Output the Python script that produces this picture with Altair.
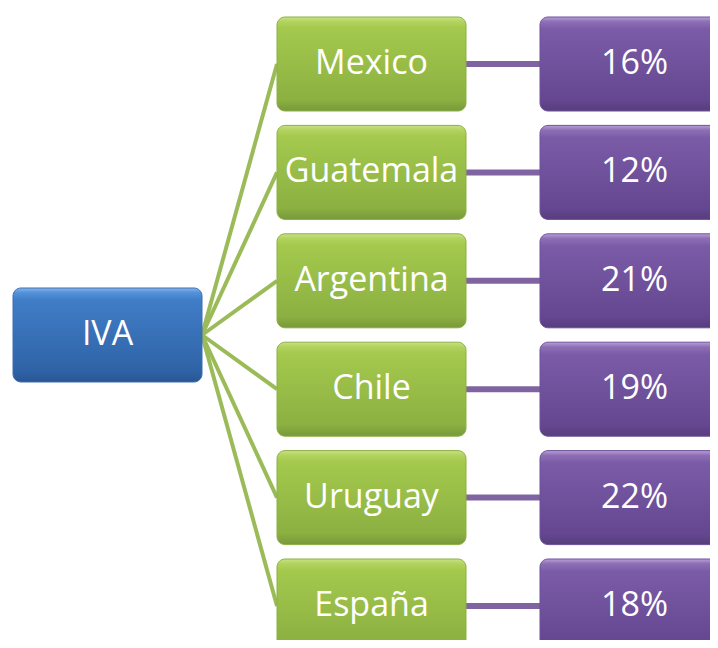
import altair as alt
import pandas as pd

# ---- data ----
root_label = ["IVA"]
countries = ["Mexico", "Guatemala", "Argentina", "Chile", "Uruguay", "España"]
rates = ["16%", "12%", "21%", "19%", "22%", "18%"]

# ---- layout (page pixel space) ----
W, H = 702, 632
OX, OY = 8, 8
BOX_W, BOX_H = 189, 94
TOP0, STEP = 17, 108.4
ROOT_X, ROOT_Y = 13, 288
MID_X = 277
LEAF_X = 540

rows = []
for i, (c, r) in enumerate(zip(countries, rates)):
    top = TOP0 + i * STEP
    rows.append(dict(country=c, rate=r, top=top, bot=top + BOX_H, yc=top + BOX_H / 2,
                     mx1=MID_X, mx2=MID_X + BOX_W, mxc=MID_X + BOX_W / 2,
                     lx1=LEAF_X, lx2=LEAF_X + BOX_W, lxc=LEAF_X + BOX_W / 2,
                     rx=ROOT_X + BOX_W, ry=ROOT_Y + BOX_H / 2))
df = pd.DataFrame(rows)
root = pd.DataFrame([dict(label=root_label[0], x1=ROOT_X, x2=ROOT_X + BOX_W, xc=ROOT_X + BOX_W / 2,
                          top=ROOT_Y, bot=ROOT_Y + BOX_H, yc=ROOT_Y + BOX_H / 2)])

xs = alt.Scale(domain=[OX, OX + W], nice=False, zero=False)
ys = alt.Scale(domain=[OY, OY + H], nice=False, zero=False, reverse=True)


def X(f):
    return alt.X(f"{f}:Q", scale=xs, axis=None)


def Y(f):
    return alt.Y(f"{f}:Q", scale=ys, axis=None)


def grad(stops):
    return alt.Gradient(gradient="linear", x1=0, y1=0, x2=0, y2=1,
                        stops=[alt.GradientStop(color=c, offset=o) for o, c in stops])


green = grad([(0, "#c8e284"), (0.05, "#b2d35f"), (0.12, "#a4c94d"), (0.88, "#8cb041"), (1, "#78993a")])
blue = grad([(0, "#86b4ea"), (0.05, "#5391da"), (0.13, "#407dc7"), (0.88, "#2f63a7"), (1, "#295693")])
purple = grad([(0, "#b9a0d8"), (0.05, "#8d6fb6"), (0.13, "#7b5ba7"), (0.88, "#654791"), (1, "#573d7d")])

FONT = "Open Sans"
FS = 34

links = alt.Chart(df).mark_rule(color="#9bbb59", strokeWidth=4, clip=True).encode(
    x=X("rx"), y=Y("ry"), x2="mx1", y2="yc")
conns = alt.Chart(df).mark_rule(color="#8064a2", strokeWidth=6, clip=True).encode(
    x=X("mx2"), y=Y("yc"), x2="lx1", y2="yc")

shadow_mid = alt.Chart(df).mark_rect(color="#000000", opacity=0.12, cornerRadius=8, clip=True).encode(
    x=X("mx1"), x2="mx2", y=Y("top"), y2="bot", yOffset=alt.value(3))
shadow_leaf = alt.Chart(df).mark_rect(color="#000000", opacity=0.12, cornerRadius=8, clip=True).encode(
    x=X("lx1"), x2="lx2", y=Y("top"), y2="bot", yOffset=alt.value(3))
shadow_root = alt.Chart(root).mark_rect(color="#000000", opacity=0.12, cornerRadius=8, clip=True).encode(
    x=X("x1"), x2="x2", y=Y("top"), y2="bot", yOffset=alt.value(3))

root_box = alt.Chart(root).mark_rect(fill=blue, cornerRadius=8, stroke="#3c6fb0", strokeWidth=1,
                                     clip=True).encode(
    x=X("x1"), x2="x2", y=Y("top"), y2="bot")
mid_box = alt.Chart(df).mark_rect(fill=green, cornerRadius=8, stroke="#8db043", strokeWidth=1,
                                  clip=True).encode(
    x=X("mx1"), x2="mx2", y=Y("top"), y2="bot")
leaf_box = alt.Chart(df).mark_rect(fill=purple, cornerRadius=8, stroke="#6f519a", strokeWidth=1,
                                   clip=True).encode(
    x=X("lx1"), x2="lx2", y=Y("top"), y2="bot")

root_txt = alt.Chart(root).mark_text(font=FONT, fontSize=FS, color="white", align="center",
                                     baseline="middle").encode(
    x=X("xc"), y=Y("yc"), text="label:N")
mid_txt = alt.Chart(df).mark_text(font=FONT, fontSize=FS, color="white", align="center",
                                  baseline="middle").encode(
    x=X("mxc"), y=Y("yc"), text="country:N")
leaf_txt = alt.Chart(df).mark_text(font=FONT, fontSize=FS, color="white", align="center",
                                   baseline="middle", clip=True).encode(
    x=X("lxc"), y=Y("yc"), text="rate:N")

chart = alt.layer(
    links, conns, shadow_root, shadow_mid, shadow_leaf,
    root_box, mid_box, leaf_box, root_txt, mid_txt, leaf_txt
).properties(
    width=W, height=H, padding=0,
    autosize=alt.AutoSizeParams(type="none"),
    background="white",
).configure_view(stroke=None)

chart.save("out.html", embed_options={"renderer": "svg", "actions": False})
